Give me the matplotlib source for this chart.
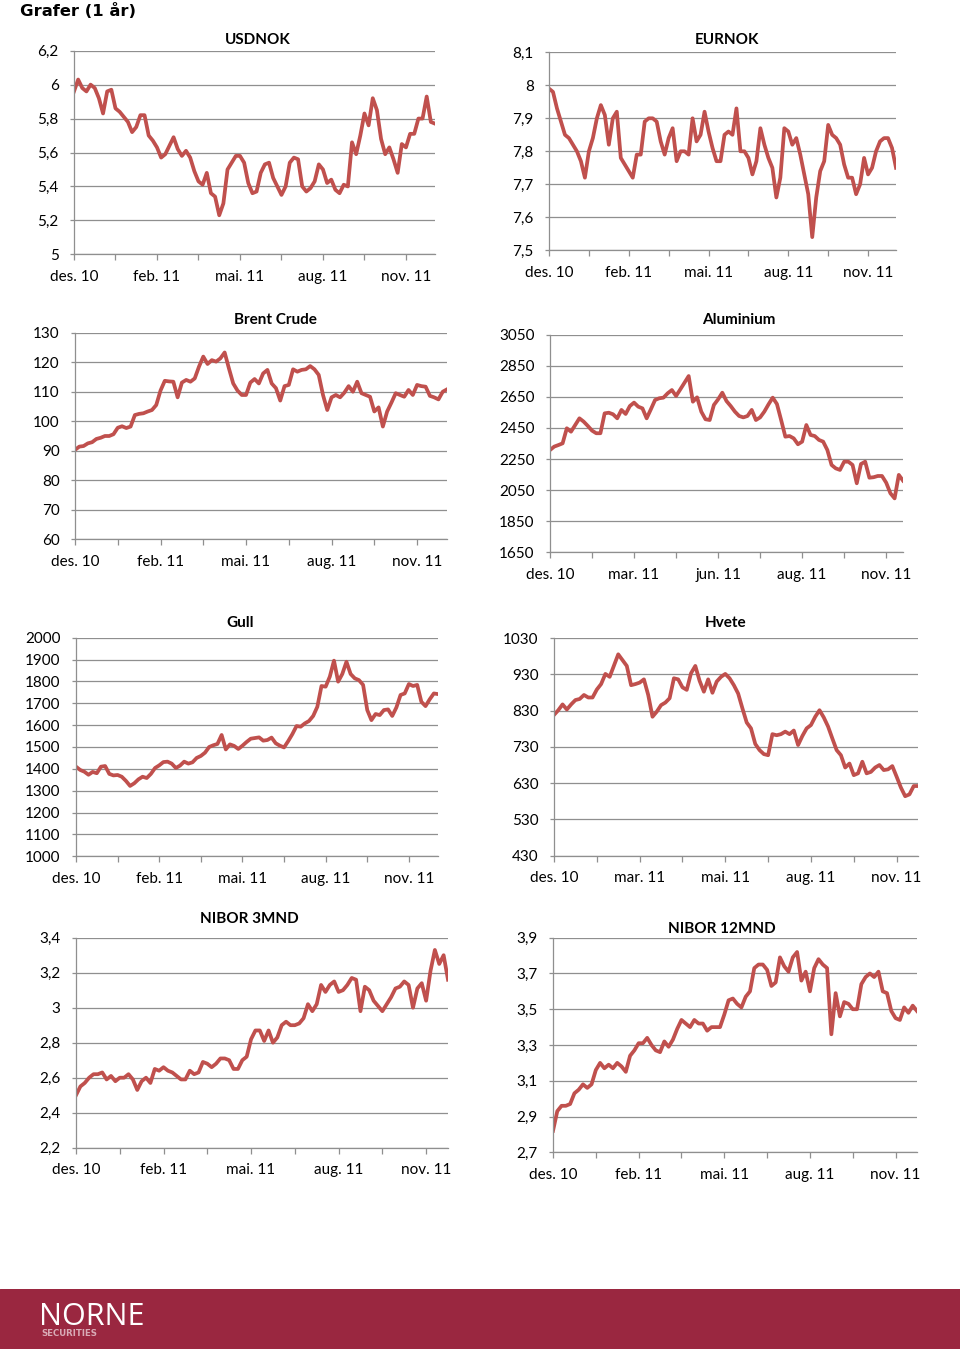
import matplotlib
matplotlib.use("Agg")
import matplotlib.pyplot as plt
from matplotlib.ticker import FuncFormatter

plt.rcParams['font.family'] = ['Lato', 'DejaVu Sans']

# ---- data (roughly every 3 trading days) ----
usdnok = [5.96, 6.03, 5.98, 5.96, 6.00, 5.98, 5.92, 5.83, 5.96, 5.97,
          5.86, 5.84, 5.81, 5.78, 5.72, 5.75, 5.82, 5.82, 5.70, 5.67,
          5.63, 5.57, 5.59, 5.64, 5.69, 5.62, 5.58, 5.61, 5.57, 5.49,
          5.43, 5.41, 5.48, 5.36, 5.34, 5.23, 5.30, 5.50, 5.54, 5.58,
          5.58, 5.54, 5.42, 5.36, 5.37, 5.48, 5.53, 5.54, 5.45, 5.40,
          5.35, 5.40, 5.54, 5.57, 5.56, 5.40, 5.37, 5.39, 5.43, 5.53,
          5.50, 5.42, 5.44, 5.38, 5.36, 5.41, 5.40, 5.66, 5.59, 5.70,
          5.83, 5.76, 5.92, 5.85, 5.68, 5.59, 5.63, 5.56, 5.48, 5.65,
          5.63, 5.71, 5.71, 5.80, 5.80, 5.93, 5.78, 5.77]

eurnok = [7.99, 7.98, 7.93, 7.89, 7.85, 7.84, 7.82, 7.80, 7.77, 7.72,
          7.80, 7.84, 7.90, 7.94, 7.91, 7.82, 7.90, 7.92, 7.78, 7.76,
          7.74, 7.72, 7.79, 7.79, 7.89, 7.90, 7.90, 7.89, 7.83, 7.79,
          7.84, 7.87, 7.77, 7.80, 7.80, 7.79, 7.90, 7.83, 7.85, 7.92,
          7.86, 7.81, 7.77, 7.77, 7.85, 7.86, 7.85, 7.93, 7.80, 7.80,
          7.78, 7.73, 7.77, 7.87, 7.82, 7.78, 7.75, 7.66, 7.72, 7.87,
          7.86, 7.82, 7.84, 7.79, 7.73, 7.67, 7.54, 7.66, 7.74, 7.77,
          7.88, 7.85, 7.84, 7.82, 7.76, 7.72, 7.72, 7.67, 7.70, 7.78,
          7.73, 7.75, 7.80, 7.83, 7.84, 7.84, 7.81, 7.75]

brent = [90.3, 91.4, 91.6, 92.5, 92.9, 94.0, 94.4, 95.0, 95.0, 95.6,
         97.8, 98.3, 97.7, 98.2, 102.1, 102.5, 102.7, 103.3, 103.8, 105.5,
         110.4, 113.7, 113.5, 113.4, 108.1, 113.1, 114.0, 113.4, 114.5, 118.5,
         121.9, 119.4, 120.7, 120.2, 121.3, 123.3, 117.9, 112.8, 110.4, 108.9,
         108.9, 113.1, 114.3, 112.8, 116.2, 117.4, 112.8, 111.2, 107.0, 111.9,
         112.3, 117.6, 116.8, 117.4, 117.6, 118.7, 117.6, 115.7, 108.9, 103.8,
         108.1, 108.9, 108.1, 109.7, 111.9, 110.0, 113.4, 109.5, 108.9, 108.3,
         103.3, 104.7, 98.2, 103.3, 106.3, 109.5, 108.9, 108.3, 110.6, 108.9,
         112.3, 111.9, 111.7, 108.6, 108.1, 107.4, 110.0, 110.8]

aluminium = [2308, 2330, 2340, 2351, 2448, 2426, 2469, 2512, 2491, 2463,
             2433, 2416, 2416, 2544, 2548, 2538, 2512, 2566, 2540, 2591,
             2613, 2587, 2576, 2512, 2570, 2630, 2641, 2645, 2673, 2694,
             2656, 2698, 2741, 2784, 2619, 2647, 2555, 2506, 2501, 2598,
             2634, 2677, 2623, 2591, 2555, 2527, 2518, 2527, 2566, 2501,
             2518, 2555, 2602, 2645, 2604, 2501, 2394, 2398, 2383, 2345,
             2362, 2469, 2405, 2398, 2373, 2362, 2308, 2212, 2190, 2180,
             2233, 2233, 2212, 2094, 2218, 2233, 2130, 2133, 2141, 2141,
             2098, 2030, 1997, 2148, 2111]

gull = [1410, 1395, 1387, 1373, 1386, 1380, 1410, 1413, 1377, 1370,
        1372, 1364, 1345, 1322, 1334, 1352, 1364, 1358, 1377, 1404,
        1416, 1431, 1433, 1424, 1404, 1415, 1433, 1424, 1430, 1450,
        1459, 1474, 1500, 1508, 1514, 1555, 1489, 1512, 1505, 1491,
        1506, 1523, 1538, 1541, 1544, 1529, 1532, 1543, 1517, 1506,
        1498, 1527, 1559, 1596, 1593, 1608, 1619, 1642, 1684, 1779,
        1776, 1822, 1895, 1799, 1834, 1890, 1834, 1814, 1806, 1784,
        1669, 1623, 1651, 1646, 1669, 1672, 1642, 1681, 1738, 1745,
        1788, 1779, 1784, 1707, 1687, 1718, 1745, 1742]

hvete = [818, 831, 847, 833, 847, 859, 862, 873, 866, 866,
         888, 903, 931, 923, 954, 985, 969, 953, 900, 903,
         907, 916, 873, 813, 827, 845, 852, 864, 919, 916,
         894, 887, 933, 953, 912, 882, 916, 879, 910, 923,
         931, 919, 900, 877, 836, 797, 781, 738, 721, 710,
         707, 765, 762, 765, 772, 765, 775, 735, 760, 781,
         790, 813, 831, 811, 786, 753, 721, 707, 673, 684,
         652, 657, 689, 657, 661, 673, 680, 666, 668, 677,
         648, 618, 594, 599, 622, 622]

nibor3 = [2.50, 2.55, 2.57, 2.60, 2.62, 2.62, 2.63, 2.59, 2.61, 2.58,
          2.60, 2.60, 2.62, 2.59, 2.53, 2.58, 2.60, 2.57, 2.65, 2.64,
          2.66, 2.64, 2.63, 2.61, 2.59, 2.59, 2.64, 2.62, 2.63, 2.69,
          2.68, 2.66, 2.68, 2.71, 2.71, 2.70, 2.65, 2.65, 2.70, 2.72,
          2.82, 2.87, 2.87, 2.81, 2.87, 2.80, 2.83, 2.90, 2.92, 2.90,
          2.90, 2.91, 2.94, 3.02, 2.98, 3.02, 3.13, 3.09, 3.13, 3.15,
          3.09, 3.10, 3.13, 3.17, 3.16, 2.98, 3.12, 3.10, 3.04, 3.01,
          2.98, 3.02, 3.06, 3.11, 3.12, 3.15, 3.13, 3.00, 3.11, 3.14,
          3.04, 3.21, 3.33, 3.25, 3.30, 3.16]

nibor12 = [2.82, 2.93, 2.96, 2.96, 2.97, 3.03, 3.05, 3.08, 3.06, 3.08,
           3.16, 3.20, 3.17, 3.19, 3.17, 3.20, 3.18, 3.15, 3.24, 3.27,
           3.31, 3.31, 3.34, 3.30, 3.27, 3.26, 3.32, 3.29, 3.33, 3.39,
           3.44, 3.42, 3.40, 3.44, 3.42, 3.42, 3.38, 3.40, 3.40, 3.40,
           3.47, 3.55, 3.56, 3.53, 3.51, 3.57, 3.60, 3.73, 3.75, 3.75,
           3.72, 3.63, 3.65, 3.79, 3.74, 3.71, 3.79, 3.82, 3.66, 3.71,
           3.60, 3.73, 3.78, 3.75, 3.73, 3.36, 3.59, 3.46, 3.54, 3.53,
           3.50, 3.50, 3.64, 3.68, 3.70, 3.68, 3.71, 3.60, 3.59, 3.49,
           3.45, 3.44, 3.51, 3.48, 3.52, 3.49]

labels_a = ["des. 10", "feb. 11", "mai. 11", "aug. 11", "nov. 11"]
labels_alu = ["des. 10", "mar. 11", "jun. 11", "aug. 11", "nov. 11"]
labels_hv = ["des. 10", "mar. 11", "mai. 11", "aug. 11", "nov. 11"]

RED = "#C0504D"
GRID = "#8F8F8F"
W, H = 960, 1349


def fmt_no(v, pos):
    s = ("%.2f" % v).rstrip("0").rstrip(".")
    return s.replace(".", ",")


def panel(fig, box, title, tpos, values, ymin, ymax, ystep, xlabels):
    left, right, top, bottom = box
    ax = fig.add_axes([left / W, 1 - bottom / H, (right - left) / W, (bottom - top) / H])
    ax.plot(range(len(values)), values, color=RED, lw=2.7, solid_joinstyle="round")
    ax.set_xlim(0, len(values) - 1)
    ax.set_ylim(ymin, ymax)
    n = int(round((ymax - ymin) / ystep))
    ax.set_yticks([ymin + k * ystep for k in range(n + 1)])
    ax.yaxis.set_major_formatter(FuncFormatter(fmt_no))
    ax.set_xticks(range(0, len(values), 10))
    ax.set_xticklabels([xlabels[k // 2] if k % 2 == 0 else "" for k in range(len(ax.get_xticks()))])
    ax.grid(axis="y", color=GRID, lw=0.9)
    ax.set_axisbelow(True)
    for s in ["top", "right"]:
        ax.spines[s].set_visible(False)
    for s in ["left", "bottom"]:
        ax.spines[s].set_color(GRID)
        ax.spines[s].set_linewidth(0.9)
    ax.tick_params(axis="y", length=3, width=0.9, color=GRID, pad=8, labelsize=11)
    ax.tick_params(axis="x", length=4, width=0.9, color=GRID, pad=7, labelsize=11)
    fig.text(tpos[0] / W, 1 - tpos[1] / H, title, ha="center", va="center",
             fontsize=11, fontweight="bold")
    return ax


fig = plt.figure(figsize=(9.6, 13.49), dpi=100)

fig.text(20 / W, 1 - 11 / H, "Grafer (1 år)", ha="left", va="center",
         fontsize=11.8, fontweight="bold", family="DejaVu Sans")

panel(fig, (74, 435, 50.7, 254.3), "USDNOK", (258, 40), usdnok, 5.0, 6.2, 0.2, labels_a)
panel(fig, (549, 896, 52.3, 250.3), "EURNOK", (727, 40), eurnok, 7.5, 8.1, 0.1, labels_a)
panel(fig, (75, 447, 332.7, 539.3), "Brent Crude", (275, 320), brent, 60, 130, 10, labels_a)
panel(fig, (550, 903, 334.7, 552.3), "Aluminium", (739, 320), aluminium, 1650, 3050, 200, labels_alu)
panel(fig, (76, 438, 637.7, 856.3), "Gull", (240, 623), gull, 1000, 2000, 100, labels_a)
panel(fig, (554, 918, 638, 855.7), "Hvete", (726, 623), hvete, 430, 1030, 100, labels_hv)
panel(fig, (76, 448, 937.7, 1147.7), "NIBOR 3MND", (249, 919), nibor3, 2.2, 3.4, 0.2, labels_a)
panel(fig, (553, 917, 937.7, 1152.3), "NIBOR 12MND", (722, 929), nibor12, 2.7, 3.9, 0.2, labels_a)

# footer band with logo
band = fig.add_axes([0, 0, 1, 60 / H])
band.set_axis_off()
band.set_xlim(0, W)
band.set_ylim(0, 60)
band.add_patch(plt.Rectangle((0, 0), W, 60, color="#9A2740"))
band.text(39, 32, "NORNE", color="white", fontsize=22, ha="left", va="center",
          family="Open Sans")
band.text(41, 15, "SECURITIES", color="#D9AAB6", fontsize=6.2, ha="left", va="center",
          family="DejaVu Sans", fontweight="bold")

fig.savefig("out.png", dpi=100)
